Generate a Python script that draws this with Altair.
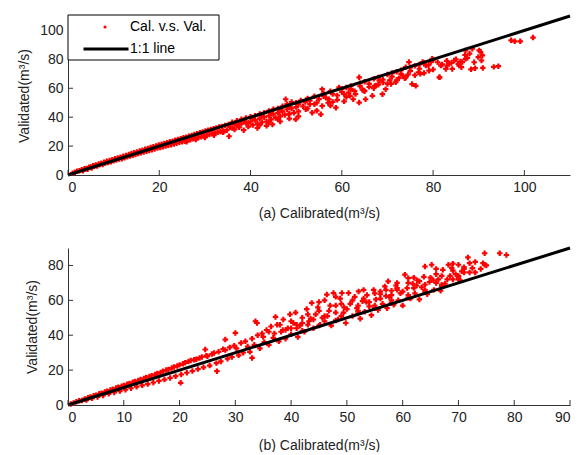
import altair as alt
import pandas as pd

# ---------------- data ----------------
# panel (a): calibrated vs validated
xa = [1.0,1.5,2.0,2.5,3.0,3.3,3.6,4.0,4.3,4.6,5.0,5.2,5.5,5.8,6.1,6.4,6.7,7.0,7.3,7.6,7.9,8.2,8.5,8.8,9.1,9.4,9.7,10.0,
      10.3,10.6,10.9,11.2,11.5,11.8,12.1,12.4,12.7,13.0,13.3,13.6,13.9,14.2,14.5,14.8,15.1,15.4,15.7,16.0,16.3,16.6,16.9,
      17.2,17.5,17.8,18.1,18.4,18.7,19.0,19.3,19.6,19.9,
      20.2,20.5,20.8,21.1,21.4,21.7,22.0,22.3,22.6,22.9,23.2,23.5,23.8,24.1,24.4,24.7,25.0,25.3,25.6,25.9,26.2,26.5,26.8,
      27.1,27.4,27.7,28.0,28.3,28.6,28.9,29.2,29.5,29.8,30.1,30.4,30.7,31.0,31.3,31.6,31.9,32.2,32.5,32.8,33.1,33.4,33.7,
      34.0,34.4,34.8,35.2,26.0,28.0,30.0,32.0,34.0,35.3,
      35.5,36.0,36.5,37.0,37.0,37.5,38.0,38.0,38.5,39.0,39.0,39.5,40.0,40.0,40.5,41.0,41.0,41.5,41.5,42.0,42.0,42.5,43.0,
      43.0,43.5,43.5,44.0,44.0,44.5,44.8,45.0,45.0,45.5,46.0,46.0,46.5,46.5,47.0,47.0,47.5,48.0,48.0,48.5,48.5,49.0,49.0,
      49.5,50.0,50.0,50.5,50.5,47.7,49.9,48.4,52.1,53.5,55.7,57.2,58.7,55.4,59.4,55.7,51.0,52.5,53.0,54.0,56.0,57.5,58.0,
      51.5,54.5,56.5,
      63.8,66.7,65.2,63.8,61.8,62.5,69.6,68.9,68.2,71.8,73.3,74.7,74.0,75.4,76.2,78.4,79.1,77.7,79.8,79.5,81.7,81.4,82.8,
      83.5,84.6,85.5,86.2,87.1,88.6,90.1,90.8,60.0,61.0,62.0,64.0,65.0,67.0,68.0,70.0,71.0,72.0,73.0,75.0,76.0,77.0,78.0,
      80.0,60.5,62.8,64.5,66.0,67.5,69.0,70.5,72.5,74.5,76.8,59.0,61.5,64.8,67.2,70.8,73.8,77.2,
      87.5,88.3,86.4,85.7,84.2,83.1,81.4,89.2,89.9,90.4,90.6,90.9,87.1,93.3,94.3,97.1,97.9,99.1,101.9,
      36.5,38.5,40.5,42.5,44.5,46.5,48.5,50.5,52.0,53.0,54.0,55.0,56.0,57.0,58.0,59.0,60.0,61.0,62.0,63.0,64.0,65.0,
      66.0,67.0,68.0,69.0,70.0,71.0,72.0,73.0,74.0,75.0,76.0,77.0,78.0,79.0,80.0,81.0,82.0,83.0,84.0,85.0,86.0,87.0,
      88.0,89.0,52.5,54.5,57.5,60.5,46.0,44.0,42.0,39.5,37.5,36.0]
ya = [1.3,1.9,2.6,2.9,3.6,3.0,4.3,4.5,4.0,5.4,5.6,4.8,6.4,6.0,7.0,6.2,7.6,7.3,8.1,7.2,8.8,8.3,9.5,8.6,10.0,9.2,10.6,9.8,
      11.2,10.3,11.8,11.0,12.3,11.2,13.0,12.0,13.5,12.6,14.2,13.1,14.8,13.7,15.4,14.2,16.0,14.8,16.6,15.3,17.2,15.9,17.8,
      16.4,18.4,17.0,19.0,17.5,19.6,18.0,20.0,18.6,20.8,
      19.0,21.2,19.6,21.8,20.0,22.4,20.6,23.0,21.0,23.4,21.5,24.0,22.0,24.6,22.6,25.0,23.0,25.8,23.4,26.2,24.0,26.8,24.3,
      27.4,25.0,28.0,25.6,28.5,26.0,29.2,26.4,29.8,27.0,30.4,27.4,31.0,28.0,31.4,28.5,32.0,29.0,32.6,29.5,33.2,30.0,33.6,
      30.5,34.2,31.0,35.0,23.0,24.5,26.0,27.5,29.5,26.8,
      33.0,36.5,31.5,34.5,37.5,33.0,38.5,35.5,31.0,39.5,36.0,33.5,40.3,37.0,34.5,41.0,38.0,35.5,32.5,42.2,39.0,36.5,43.0,
      40.0,37.0,34.0,44.3,41.0,38.5,35.0,45.5,42.0,39.5,46.0,43.0,40.5,37.0,47.5,44.0,41.5,49.0,45.5,42.5,39.0,50.5,46.0,
      43.0,50.0,47.0,44.0,40.5,52.4,38.5,41.9,45.5,43.1,47.8,52.4,46.6,42.0,60.6,59.4,51.5,53.0,49.0,54.5,56.5,58.0,50.5,
      47.5,50.0,53.5,
      67.6,54.8,52.4,50.1,54.8,52.4,59.4,55.9,65.2,64.1,68.7,78.1,74.6,62.9,61.7,75.7,72.2,78.1,80.4,78.1,75.7,67.6,73.4,
      76.9,79.2,76.9,74.6,80.4,87.4,86.2,82.7,59.5,60.5,61.5,63.5,64.5,66.5,67.5,69.5,70.5,71.5,72.5,74.5,75.5,76.5,77.5,
      79.5,56.0,58.0,59.0,61.0,62.0,64.0,65.5,67.0,69.5,71.0,55.0,57.0,58.5,61.5,63.0,67.0,70.0,
      81.0,73.1,78.1,75.7,73.4,75.7,67.6,73.9,81.6,85.1,79.2,74.1,86.2,74.8,75.3,93.2,92.5,92.5,95.1,
      35.0,37.0,39.0,41.0,43.0,45.0,47.0,49.0,50.5,51.5,49.0,52.5,54.5,50.0,56.0,52.0,57.5,54.0,59.5,56.0,61.5,58.0,
      63.0,60.0,62.5,66.0,63.0,68.0,65.5,70.0,67.5,72.0,69.0,73.5,70.5,76.0,73.0,78.0,76.5,79.0,77.5,80.0,78.5,83.0,
      84.0,78.0,46.0,44.5,48.0,51.0,38.5,36.5,34.5,36.0,35.5,32.5]

# panel (b): calibrated vs validated
xb = [0.5,1,1.5,2,2.5,3,3.3,3.6,4,4.3,4.6,5,5.3,5.6,6,6.3,6.6,7,7.3,7.6,8,8.3,8.6,9,9.3,9.6,10,10.3,10.6,11,11.3,11.6,
      12,12.3,12.6,13,13.3,13.6,14,14.3,14.6,15,15.3,15.6,16,16.3,16.6,17,17.3,17.6,18,18.3,18.6,19,19.3,19.6,20,20.2,
      20.3,20.6,21,21.3,21.6,22,22.3,22.6,23,23.3,23.6,24,24.3,24.6,24.8,25,25.4,25.8,26.2,26.7,26.6,27,27.4,27.8,28.2,
      28.2,28.6,29,29.4,29.8,30,30.2,30.6,31,31.4,31.8,32.2,32.6,33,33,33.6,33.9,33.4,34,34.4,34.8,35.2,35.6,36,36.4,36.8,
      37.2,37.5,37.8,38.2,38.6,39,39.4,39.8,40,40.4,40.8,41.2,41.6,42,42.4,42.8,43.2,43.7,44,44.4,44.8,45.2,45.6,46,46.4,
      46.8,47.2,47.6,48,48.4,48.8,49.1,49.4,49.8,50.3,50.6,51,51.4,51.8,52.1,52.4,52.8,53.2,53.6,54,54.4,54.8,55.2,55.6,
      56,56.4,56.8,57.4,57.2,57.6,58,58.4,58.8,59.2,59.6,60,60.4,61,60.8,61.4,61.8,62.2,62.6,63,63.4,63.8,64,64.4,64.8,
      65.2,65.6,66,66.4,66.8,67.2,67.6,68.2,68.8,69,69.5,70,70.6,70.3,71,71.7,72,72.5,73,74.4,74.7,74.7,77.4,78.6,
      42,45,48,52,55,58,61,64,67,70,38.5,41,43.5,46.5,49.5,53.5,57,59,62.5,65.5,68.5,
      35,36,37,38,39,40,41,42,43,44,45,46,47,48,49,50,51,52,53,54,55,56,57,58,59,60,61,62,63,64,65,66,67,68,69,70,71,72,
      73,74,75,40,43,46,49,52,55,58,61,64,67,70,45,48,53,56,59,62,66,69,71]
yb = [0.6,1.2,1.8,2.4,2.6,3.5,2.8,4.2,4.6,3.8,5.3,5.6,4.6,6.4,6.8,5.5,7.5,7.9,6.4,8.6,9.0,7.2,9.7,10.2,8.0,10.8,11.2,8.8,
      11.9,12.4,9.6,13.0,13.5,10.5,14.0,14.6,11.3,15.2,15.8,12.0,16.4,16.8,12.9,17.5,18.0,13.8,18.7,19.3,14.6,20.0,20.4,
      15.5,21.2,21.8,16.5,22.4,23.0,12.7,17.5,23.6,24.2,18.5,25.0,25.5,19.5,26.0,26.2,20.6,27.0,27.5,21.6,31.8,28.3,28.0,
      22.6,29.2,29.8,19.4,24.0,30.5,25.0,32.0,37.5,31.5,26.5,33.0,27.5,34.0,41.3,32.5,28.5,35.5,30.0,36.5,33.5,30.5,27.0,
      38.0,48.0,47.0,34.5,40.0,32.5,41.0,36.0,43.0,34.5,45.0,38.5,50.5,46.0,36.5,42.0,49.0,38.0,44.0,52.0,40.5,47.0,53.0,
      39.0,45.5,50.0,42.0,55.0,48.0,58.5,44.0,52.0,56.0,46.0,50.0,60.0,63.3,54.0,45.5,64.2,57.0,49.0,61.0,64.2,53.0,47.0,
      64.2,58.0,51.0,62.0,55.5,65.1,49.5,59.5,53.5,63.0,56.5,51.5,66.0,60.5,54.5,63.5,58.0,68.0,70.9,55.5,62.0,65.5,57.5,
      68.5,60.0,64.0,57.0,74.7,72.7,67.0,61.0,69.5,64.0,71.5,60.5,67.5,73.5,79.4,63.5,70.5,80.4,66.0,75.0,72.0,65.5,77.5,
      69.5,80.4,78.5,72.0,75.0,80.4,76.6,71.5,78.0,84.6,81.3,78.5,76.0,81.3,80.4,87.0,87.0,86.0,
      42.5,45.5,48.5,52.5,55.5,58.5,61.5,65.0,68.0,72.0,43.0,46.0,49.5,51.0,56.0,59.0,62.5,66.0,68.5,71.5,74.0,
      39,42,41,46,43,48,44,47,52,49,54,51,57,53,58,55,60,57,61,59,64,61,66,63,67,65,70,67,71,69,73,70,74,72,77,74,79,76,
      82,78,80,44,46,48,51,54,57,60,63,66,69,73,59,62,66,65,70,73,78,81,76]

line_a = [0, 110]
line_b = [0, 90]
ticks_a = [0, 20, 40, 60, 80, 100]
ticks_bx = [0, 10, 20, 30, 40, 50, 60, 70, 80, 90]
ticks_by = [0, 20, 40, 60, 80]
series = ["Cal. v.s. Val.", "1:1 line"]

FONT = "Liberation Sans"
W = 502


def panel(xs, ys, line, xdom, ydom, xt, yt, xtitle, height, with_legend, xtp):
    pts = pd.DataFrame({"x": xs, "y": ys, "s": series[0]})
    ln = pd.DataFrame({"x": line, "y": line, "s": series[1]})
    xsc = alt.Scale(domain=xdom, nice=False, zero=False)
    ysc = alt.Scale(domain=ydom, nice=False, zero=False)
    xax = alt.Axis(values=xt, title=xtitle, ticks=False, grid=False, labelPadding=5,
                   titlePadding=xtp, format="d", labelOverlap=False)
    yax = alt.Axis(values=yt, title="Validated(m³/s)", ticks=False, grid=False, labelPadding=5,
                   titlePadding=8, format="d", labelOverlap=False)
    if with_legend:
        fill = alt.Fill("s:N", scale=alt.Scale(domain=[series[0]], range=["red"]),
                        legend=alt.Legend(title=None, orient="none", legendX=30, legendY=4,
                                          padding=0, symbolType="circle", symbolSize=10,
                                          labelOffset=18, labelFont=FONT, labelFontSize=14,
                                          labelColor="black"))
        stroke = alt.Stroke("s:N", scale=alt.Scale(domain=[series[1]], range=["black"]),
                            legend=alt.Legend(title=None, orient="none", legendX=14, legendY=9,
                                              padding=0, symbolType="stroke", symbolSize=2025,
                                              symbolStrokeWidth=3, symbolStrokeColor="black",
                                              labelOffset=0, labelFont=FONT, labelFontSize=14,
                                              labelColor="black"))
    else:
        fill = alt.value("red")
        stroke = alt.value("black")

    p = alt.Chart(pts).mark_point(shape="cross", filled=True, size=30, opacity=1).encode(
        x=alt.X("x:Q", scale=xsc, axis=xax),
        y=alt.Y("y:Q", scale=ysc, axis=yax),
        fill=fill,
    )
    l = alt.Chart(ln).mark_line(strokeWidth=3).encode(
        x=alt.X("x:Q", scale=xsc, axis=xax),
        y=alt.Y("y:Q", scale=ysc, axis=yax),
        stroke=stroke,
    )
    tx = alt.Chart(pd.DataFrame({"x": xt})).mark_rule(color="#333", strokeWidth=1).encode(
        x=alt.X("x:Q", scale=xsc, axis=xax), y=alt.value(height), y2=alt.value(height - 5))
    ty = alt.Chart(pd.DataFrame({"y": yt})).mark_rule(color="#333", strokeWidth=1).encode(
        y=alt.Y("y:Q", scale=ysc, axis=yax), x=alt.value(0), x2=alt.value(5))
    layers = [p, l, tx, ty]
    if with_legend:
        box = alt.Chart(pd.DataFrame({"k": [0]})).mark_rect(
            fill="white", stroke="black", strokeWidth=1).encode(
            x=alt.value(0), x2=alt.value(151), y=alt.value(-1), y2=alt.value(44))
        layers.append(box)
    return alt.layer(*layers).properties(width=W, height=height)


a = panel(xa, ya, line_a, [0, 110], [0, 110], ticks_a, ticks_a,
          "(a) Calibrated(m³/s)", 159, True, 12)
b = panel(xb, yb, line_b, [0, 90], [0, 90], ticks_bx, ticks_by,
          "(b) Calibrated(m³/s)", 157, False, 14)

chart = alt.vconcat(a, b, spacing=22).resolve_scale(fill="independent", stroke="independent").resolve_legend(
    fill="independent", stroke="independent"
).properties(
    padding={"left": 17, "top": 10, "right": 0, "bottom": 0}
).configure_view(stroke=None).configure_axis(
    labelFont=FONT, titleFont=FONT, labelFontSize=14, titleFontSize=14,
    labelColor="#222", titleColor="#222", titleFontWeight="normal",
    domainColor="#333", domainWidth=1, labelOverlap=False,
)

chart.save("out.html", embed_options={"renderer": "svg", "actions": False})
